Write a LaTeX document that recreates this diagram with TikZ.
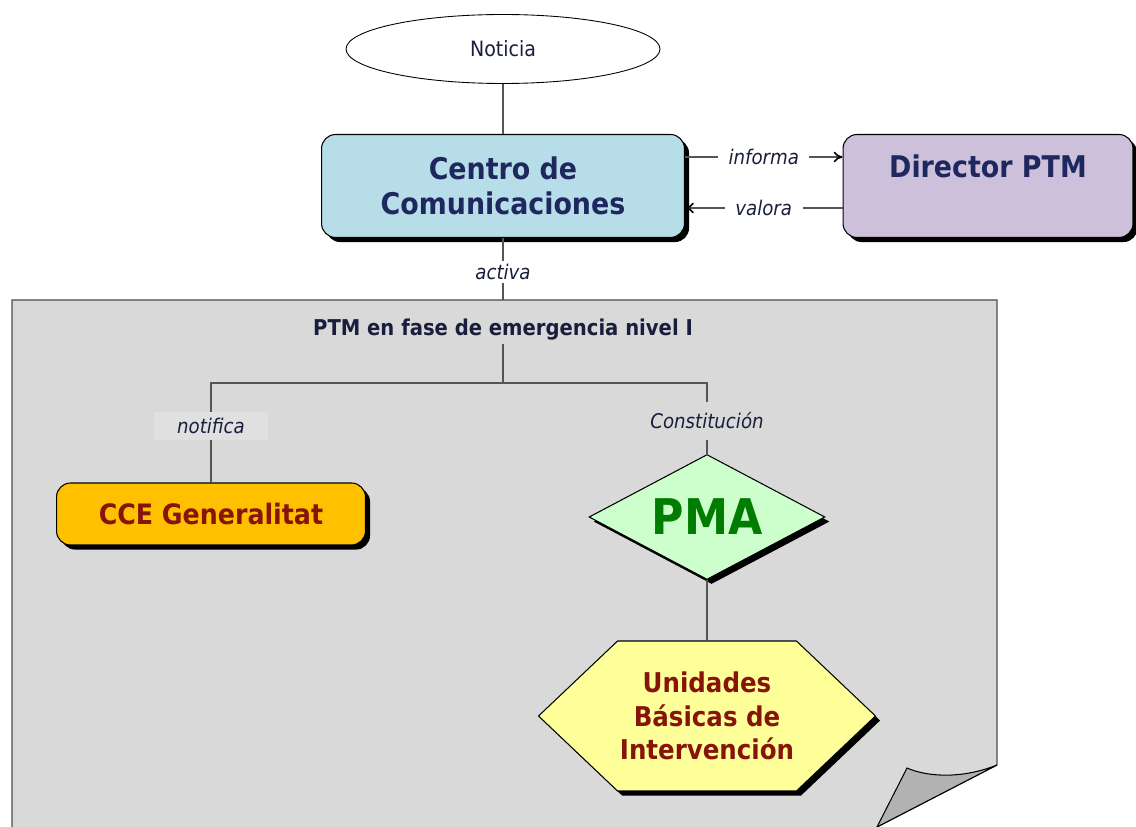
\documentclass[tikz,border=0pt]{standalone}
\usepackage{fontspec}
\setmainfont{DejaVuSansCondensed}[Extension=.ttf,UprightFont=*,BoldFont=*-Bold,ItalicFont=*-Oblique,BoldItalicFont=*-BoldOblique]
\usepackage{tikz}
\usetikzlibrary{arrows.meta,calc,positioning,shapes.geometric,shapes.symbols,shadows}

\definecolor{navytxt}{RGB}{30,40,95}
\definecolor{darktxt}{RGB}{25,30,60}
\definecolor{centrofill}{RGB}{183,221,232}
\definecolor{dirfill}{RGB}{204,192,218}
\definecolor{ccefill}{RGB}{255,192,0}
\definecolor{redtxt}{RGB}{135,20,10}
\definecolor{pmafill}{RGB}{204,255,204}
\definecolor{pmatxt}{RGB}{0,125,0}
\definecolor{ubifill}{RGB}{255,255,153}
\definecolor{panelfill}{RGB}{217,217,217}
\definecolor{notifill}{RGB}{224,224,224}
\definecolor{linkgray}{RGB}{85,85,85}

\tikzset{
  boxshadow/.style={drop shadow={shadow xshift=2.6pt,shadow yshift=-2.6pt,fill=black,opacity=1}},
  unitbox/.style={draw=black,line width=0.6pt,rounded corners=8pt,boxshadow,align=center},
  link/.style={draw=linkgray,line width=0.9pt},
  tag/.style={font=\itshape\fontsize{11.5}{13}\selectfont,text=darktxt,inner sep=2pt},
}

\begin{document}
\begin{tikzpicture}[x=0.02cm,y=-0.02cm,>={To[length=5pt,width=6pt,color=black]}]
  \useasboundingbox (0,0) rectangle (1136,827);
  % hoja gris con la esquina doblada
  \draw[fill=panelfill,draw=black!70,line width=0.7pt]
       (12,827) -- (12,300) -- (997,300) -- (997,765) -- (877,827);
  \draw[fill=black!30,line width=0.6pt]
       (997,765) .. controls (965,778) and (930,778) .. (907,768) -- (877,827) -- cycle;

  \node[draw,ellipse,fill=white,line width=0.5pt,minimum width=6.28cm,minimum height=1.38cm,
        font=\fontsize{12}{14}\selectfont,text=darktxt] (noticia) at (503,49) {Noticia};
  \node[unitbox,fill=centrofill,text=navytxt,minimum width=7.26cm,minimum height=2.06cm,
        font=\bfseries\fontsize{17}{20}\selectfont] (centro) at (503,186) {Centro de\\Comunicaciones};
  \node[unitbox,fill=dirfill,text=navytxt,minimum width=5.8cm,minimum height=2.06cm,
        text height=0.45cm,text depth=0.8cm,
        font=\bfseries\fontsize{17}{20}\selectfont] (director) at (988,186) {Director PTM};
  \coordinate (paneltop) at (503,300);

  \node[font=\bfseries\fontsize{12.4}{14}\selectfont,text=darktxt,inner sep=2pt] (ptm) at (503,330)
       {PTM en fase de emergencia nivel I};
  \coordinate (fork) at (503,383);
  \node[tag,fill=notifill,minimum width=2.3cm,minimum height=0.56cm] (notifica) at (211,426) {notifica};
  \node[tag,fill=panelfill,minimum height=0.76cm] (constit) at (707,421) {Constitución};

  \node[unitbox,fill=ccefill,text=redtxt,minimum width=6.18cm,minimum height=1.24cm,
        font=\bfseries\fontsize{16}{19}\selectfont] (cce) at (211,514) {CCE Generalitat};
  \node[diamond,aspect=1.89,draw,line width=0.6pt,fill=pmafill,boxshadow,text=pmatxt,inner sep=0pt,
        minimum width=4.72cm,minimum height=2.5cm,
        font=\bfseries\fontsize{28}{30}\selectfont] (pma) at (707,517) {PMA};
  \node[signal,signal to=west and east,signal pointer angle=87,draw,line width=0.6pt,
        fill=ubifill,boxshadow,text=redtxt,align=center,inner xsep=0pt,
        minimum width=6.74cm,minimum height=3.0cm,
        font=\bfseries\fontsize{15.5}{19}\selectfont] (ubi) at (707,716)
       {Unidades\\Básicas de\\Intervención};

  % conexiones
  \draw[link] (noticia) -- (centro);
  \draw[link,->] ([yshift=0.58cm]centro.east) -- node[tag,fill=white,inner xsep=6pt]{informa} ([yshift=0.58cm]director.west);
  \draw[link,->] ([yshift=-0.44cm]director.west) -- node[tag,fill=white,inner xsep=6pt]{valora} ([yshift=-0.44cm]centro.east);
  \draw[link] (centro.south) -- node[tag,fill=white,pos=0.55]{activa} (paneltop);
  \draw[link] (ptm.south) -- (fork) -| (notifica.north);
  \draw[link] (fork) -| (constit.north);
  \draw[link] (notifica.south) -- (cce.north);
  \draw[link] (constit.south) -- (pma.north);
  \draw[link] (pma.south) -- (ubi.north);
\end{tikzpicture}
\end{document}
